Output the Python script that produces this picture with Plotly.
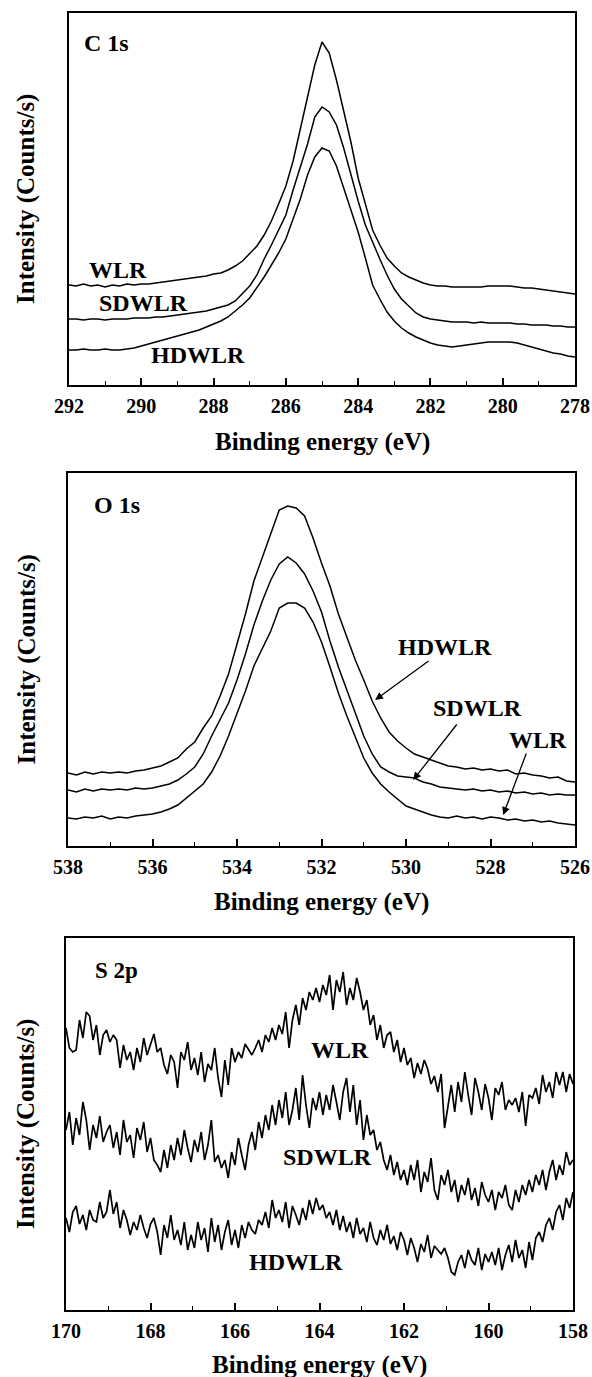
import numpy as np
import plotly.graph_objects as go

# ---------------- C 1s ----------------
c1s_energy = np.round(np.linspace(292, 278, 71), 2)
c1s_wlr = [100, 99, 101, 99, 100, 98, 100, 99, 101, 100,
           101, 101, 102, 103, 104, 105, 106, 107, 108, 109,
           111, 112, 115, 119, 124, 131, 139, 150, 164, 181,
           199, 224, 255, 287, 320, 343, 332, 305, 275, 243,
           207, 180, 155, 140, 127, 119, 112, 108, 105, 102,
           100, 99, 99, 98, 98, 98, 98, 98, 99, 99,
           99, 99, 98, 97, 97, 96, 95, 94, 93, 92,
           91]
c1s_sdwlr = [66, 66, 65, 66, 66, 65, 66, 66, 66, 67,
             67, 67, 68, 68, 69, 70, 71, 72, 73, 74,
             76, 78, 80, 84, 91, 99, 110, 126, 140, 155,
             170, 195, 217, 241, 268, 278, 273, 260, 237, 210,
             184, 160, 142, 126, 110, 96, 86, 79, 72, 68,
             66, 65, 64, 63, 63, 63, 62, 63, 62, 62,
             62, 62, 61, 61, 60, 60, 60, 59, 59, 58,
             58]
c1s_hdwlr = [35, 35, 36, 35, 35, 36, 35, 35, 36, 37,
             39, 41, 43, 45, 47, 49, 51, 53, 55, 58,
             61, 64, 68, 74, 80, 87, 97, 108, 120, 132,
             146, 165, 186, 210, 228, 237, 234, 219, 197, 176,
             153, 127, 100, 86, 73, 64, 57, 52, 48, 45,
             42, 40, 39, 38, 39, 40, 41, 42, 43, 43,
             43, 43, 42, 40, 38, 36, 34, 32, 31, 29,
             28]

# ---------------- O 1s ----------------
o1s_energy = np.round(np.linspace(538, 526, 61), 2)
o1s_hdwlr = [73, 71, 74, 72, 74, 73, 74, 73, 75, 76,
             78, 80, 84, 88, 97, 104, 118, 130, 150, 172,
             202, 232, 265, 288, 312, 336, 340, 338, 330, 308,
             283, 260, 232, 209, 186, 166, 145, 128, 114, 105,
             98, 92, 89, 86, 83, 80, 79, 77, 78, 76,
             77, 75, 76, 72, 73, 71, 70, 68, 69, 65,
             64]
o1s_sdwlr = [56, 54, 57, 55, 57, 56, 57, 56, 58, 57,
             58, 60, 62, 66, 72, 79, 92, 110, 126, 143,
             166, 192, 221, 245, 266, 282, 289, 283, 272, 255,
             234, 205, 179, 156, 132, 110, 92, 79, 74, 70,
             69, 68, 64, 62, 59, 58, 57, 56, 57, 55,
             56, 54, 55, 53, 54, 52, 53, 51, 52, 51,
             51]
o1s_wlr = [28, 27, 29, 28, 30, 27, 29, 28, 30, 31,
           32, 34, 37, 41, 48, 55, 62, 74, 90, 110,
           132, 155, 180, 197, 215, 238, 243, 243, 238, 224,
           204, 179, 153, 130, 108, 88, 73, 62, 54, 47,
           40, 37, 34, 31, 29, 28, 30, 28, 29, 27,
           29, 28, 26, 27, 25, 26, 24, 25, 23, 22,
           21]

# ---------------- S 2p ----------------
s2p_energy = np.round(np.linspace(170, 158, 151), 2)
s2p_wlr = [282, 262, 258, 260, 290, 272, 298, 294, 270, 285, 255, 275, 280,
           268, 275, 270, 242, 265, 250, 258, 240, 262, 248, 272, 255, 266,
           276, 258, 262, 245, 236, 255, 248, 222, 258, 250, 268, 240,
           252, 235, 258, 228, 246, 240, 262, 232, 213, 250, 225, 262, 248,
           258, 252, 266, 260, 255, 262, 270, 258, 275, 268, 282, 270,
           285, 276, 298, 262, 290, 305, 285, 312, 300, 318, 310, 322, 308,
           325, 315, 335, 300, 330, 318, 338, 305, 322, 310, 332, 318,
           300, 310, 285, 295, 270, 285, 262, 275, 278, 258, 270, 248, 262,
           245, 252, 232, 247, 236, 250, 241, 226, 234, 218, 236, 182,
           205, 225, 198, 228, 208, 238, 215, 195, 232, 218, 200, 226, 212,
           190, 222, 215, 228, 200, 210, 205, 212, 198, 218, 184, 215,
           212, 222, 206, 235, 218, 228, 212, 238, 225, 238, 218, 236, 226]
s2p_sdwlr = [180, 198, 165, 192, 175, 208, 190, 160, 185, 172, 194, 168, 178,
             185, 162, 178, 155, 190, 168, 175, 152, 182, 170, 188, 158, 172,
             150, 145, 138, 160, 142, 165, 150, 172, 155, 180, 162, 148,
             170, 158, 178, 150, 165, 190, 148, 155, 142, 150, 132, 158, 145,
             172, 155, 140, 165, 178, 160, 188, 172, 195, 180, 205, 185,
             210, 192, 218, 185, 200, 222, 190, 235, 205, 182, 212, 200, 218,
             195, 215, 200, 225, 208, 190, 218, 232, 198, 225, 185, 210,
             170, 195, 175, 180, 160, 168, 150, 140, 155, 135, 148, 130, 140,
             125, 145, 130, 150, 118, 138, 128, 152, 120, 110, 135, 125,
             140, 118, 130, 108, 125, 115, 132, 110, 122, 104, 128, 115, 108,
             120, 100, 118, 112, 125, 105, 100, 120, 108, 125, 115, 130,
             118, 135, 125, 140, 120, 138, 150, 130, 145, 135, 158, 145, 150]
s2p_hdwlr = [92, 78, 98, 104, 86, 95, 80, 100, 90, 88, 108, 92, 98,
             120, 96, 108, 82, 100, 90, 75, 88, 80, 95, 82, 72, 86,
             92, 78, 55, 85, 72, 95, 70, 80, 65, 88, 60, 75,
             62, 88, 70, 82, 58, 92, 68, 85, 60, 78, 90, 65, 80,
             62, 85, 72, 88, 80, 76, 90, 85, 98, 82, 110, 92,
             100, 88, 108, 82, 104, 95, 85, 102, 90, 110, 96, 112, 100,
             105, 92, 98, 85, 100, 80, 94, 78, 88, 72, 92, 76,
             82, 68, 88, 72, 65, 80, 70, 85, 66, 74, 60, 78, 70,
             55, 72, 62, 48, 66, 58, 75, 52, 64, 60, 56, 62,
             52, 38, 35, 48, 55, 42, 60, 50, 45, 62, 40, 56, 48,
             58, 45, 62, 40, 55, 65, 48, 70, 52, 60, 42, 68,
             50, 72, 78, 68, 85, 92, 80, 98, 105, 90, 112, 102, 118]

tick_vals_c = [292, 290, 288, 286, 284, 282, 280, 278]
tick_vals_o = [538, 536, 534, 532, 530, 528, 526]
tick_vals_s = [170, 168, 166, 164, 162, 160, 158]

W, H = 592, 1377
FONT = "Liberation Serif"

fig = go.Figure()
panels = [
    (c1s_energy, [c1s_wlr, c1s_sdwlr, c1s_hdwlr], "x", "y", 1.5),
    (o1s_energy, [o1s_hdwlr, o1s_sdwlr, o1s_wlr], "x2", "y2", 1.5),
    (s2p_energy, [s2p_wlr, s2p_sdwlr, s2p_hdwlr], "x3", "y3", 1.7),
]
for en, series, xa, ya, lw in panels:
    for s in series:
        fig.add_trace(go.Scatter(x=en, y=s, mode="lines", xaxis=xa, yaxis=ya,
                                 line=dict(color="black", width=lw),
                                 showlegend=False, hoverinfo="skip"))

# panel pixel boxes: (left, right, top, bottom)
boxes = [(69, 575, 13, 385), (68, 575, 473, 846), (66, 573, 938, 1310)]
xranges = [[292, 278], [538, 526], [170, 158]]
ticks = [tick_vals_c, tick_vals_o, tick_vals_s]

layout = dict(width=W, height=H, autosize=False, margin=dict(l=0, r=0, t=0, b=0, pad=0),
              paper_bgcolor="white", plot_bgcolor="white", showlegend=False)
for i, (l, r, t, b) in enumerate(boxes):
    sfx = "" if i == 0 else str(i + 1)
    layout["xaxis" + sfx] = dict(
        domain=[l / W, r / W], range=xranges[i], anchor="y" + sfx,
        showline=True, mirror=True, linecolor="black", linewidth=1.5,
        showgrid=False, zeroline=False, automargin=False,
        ticks="inside", ticklen=7, tickwidth=1.5, tickcolor="black",
        tickvals=ticks[i], ticklabelstandoff=2,
        tickfont=dict(family=FONT, size=20, color="black", weight="bold"),
        minor=dict(dtick=1, ticks="inside", ticklen=4, tickwidth=1.3, tickcolor="black"),
    )
    layout["yaxis" + sfx] = dict(
        domain=[1 - b / H, 1 - t / H], range=[0, b - t], anchor="x" + sfx,
        showline=True, mirror=True, linecolor="black", linewidth=1.5,
        showgrid=False, zeroline=False, showticklabels=False, ticks="",
        automargin=False,
    )
fig.update_layout(**layout)

ann = []
lab_font = dict(family=FONT, size=24, color="black")
# axis titles
for (l, r, t, b), ty in zip(boxes, [442, 902, 1365]):
    ann.append(dict(text="<b>Binding energy (eV)</b>", xref="paper", yref="paper",
                    x=(l + r) / 2 / W, y=1 - ty / H, showarrow=False,
                    xanchor="center", yanchor="middle",
                    font=dict(family=FONT, size=25, color="black")))
    ann.append(dict(text="<b>Intensity (Counts/s)</b>", xref="paper", yref="paper",
                    x=26 / W, y=1 - (t + b) / 2 / H, showarrow=False, textangle=-90,
                    xanchor="center", yanchor="middle",
                    font=dict(family=FONT, size=25, color="black")))

# panel labels
ann.append(dict(text="<b>C 1s</b>", x=291.65, y=342, xref="x", yref="y", showarrow=False,
                xanchor="left", yanchor="middle", font=dict(family=FONT, size=24, color="black")))
ann.append(dict(text="<b>O 1s</b>", x=537.43, y=341, xref="x2", yref="y2", showarrow=False,
                xanchor="left", yanchor="middle", font=dict(family=FONT, size=24, color="black")))
ann.append(dict(text="<b>S 2p</b>", x=169.36, y=340, xref="x3", yref="y3", showarrow=False,
                xanchor="left", yanchor="middle", font=dict(family=FONT, size=23, color="black")))

# C 1s curve labels
for txt, x, y in [("WLR", 290.64, 115), ("SDWLR", 289.95, 82), ("HDWLR", 288.43, 30)]:
    ann.append(dict(text="<b>%s</b>" % txt, x=x, y=y, xref="x", yref="y", showarrow=False,
                    xanchor="center", yanchor="middle", font=lab_font))

# O 1s labels with arrows
for txt, lx, ly, tx, ty, hx, hy in [("HDWLR", 529.08, 199, 529.43, 186, 530.73, 146),
                                    ("SDWLR", 528.30, 138, 528.77, 123, 529.83, 66),
                                    ("WLR", 526.88, 106, 527.14, 94, 527.70, 31)]:
    ann.append(dict(text="<b>%s</b>" % txt, x=lx, y=ly, xref="x2", yref="y2", showarrow=False,
                    xanchor="center", yanchor="middle", font=lab_font))
    ann.append(dict(text="", x=hx, y=hy, ax=tx, ay=ty, xref="x2", yref="y2",
                    axref="x2", ayref="y2", showarrow=True, arrowhead=2,
                    arrowsize=1.2, arrowwidth=1.3, arrowcolor="black"))

# S 2p curve labels
for txt, x, y in [("WLR", 163.51, 260), ("SDWLR", 163.82, 153), ("HDWLR", 164.56, 48)]:
    ann.append(dict(text="<b>%s</b>" % txt, x=x, y=y, xref="x3", yref="y3", showarrow=False,
                    xanchor="center", yanchor="middle", font=lab_font))

fig.update_layout(annotations=ann)
fig.write_html("out.html", config={"responsive": False, "displayModeBar": False},
               post_script="document.body.style.margin='0';document.body.style.overflow='hidden';")
